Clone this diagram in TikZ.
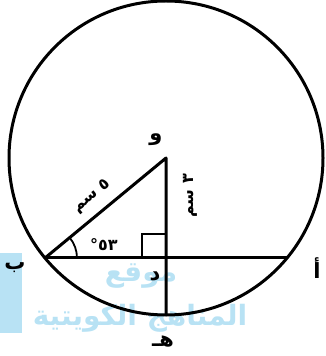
\documentclass[tikz,border=0pt]{standalone}
\usepackage{fontspec}
\usetikzlibrary{positioning,calc,angles}
\newfontfamily\arabicfont[Script=Arabic]{DejaVu Sans}
\TeXXeTstate=1
\definecolor{marcaAzul}{HTML}{B8E2F4}
\tikzset{
  harf/.style={font=\arabicfont\bfseries\fontsize{21}{21}\selectfont, inner sep=1pt},
  wasf/.style={font=\arabicfont\bfseries\fontsize{16}{16}\selectfont, inner sep=1pt},
  khatt/.style={line width=3pt, black, line cap=round, line join=round},
  rakn/.style={line width=1.8pt, black},
  alama/.style={text=marcaAzul, font=\arabicfont\bfseries\fontsize{28}{30}\selectfont, inner sep=0pt},
}

\begin{document}
\begin{tikzpicture}[x=1pt,y=1pt]
    \useasboundingbox (0,0) rectangle (326,356);
    % watermark
    \fill[marcaAzul] (0,23) rectangle (22,103);
    \node[alama] (mawqi)   at (141,80) {\beginR موقع\endR};
    \node[alama] (manahij) at (140,38) {\beginR المناهج الكويتية\endR};

    \coordinate (w) at (166,198);
    \coordinate (b) at (45,98);
    \coordinate (a) at (287,98);
    \coordinate (d) at (166,98);
    \coordinate (h) at (166,41);

    \draw[khatt] (w) circle[radius=157];
    \draw[khatt] (b) -- (a);
    \draw[khatt] (b) -- node[wasf, pos=0.48, sloped, above=8pt] (taul) {\beginR ٥ سم\endR} (w) -- (h);
    \draw[rakn] ($(d)+(-24,0)$) |- ($(d)+(0,24)$);
    \draw[rakn] pic[draw, angle radius=32pt] {angle = d--b--w};

    \node[wasf] (zawiya) at (104,111) {٥٣°};
    \node[wasf, rotate=90] (irtifa) at (190,160) {\beginR ٣ سم\endR};

    \node[harf] (wL) at (156,216) {و};
    \node[harf] (bL) at (15,88)   {ب};
    \node[harf] (aL) at (317,88)  {أ};
    \node[harf] (dL) at (155,80)  {د};
    \node[harf] (hL) at (163,14)  {هـ};
\end{tikzpicture}
\end{document}
